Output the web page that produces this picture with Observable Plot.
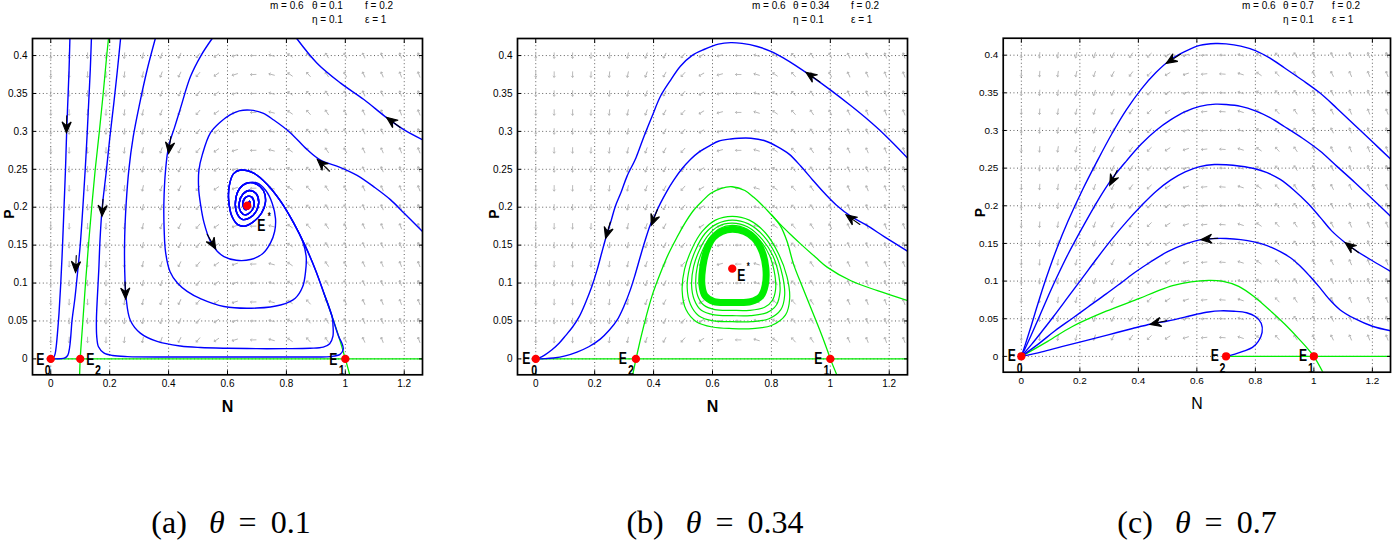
<!DOCTYPE html>
<html>
<head>
<meta charset="utf-8">
<script src="https://cdn.jsdelivr.net/npm/d3@7"></script>
<script src="https://cdn.jsdelivr.net/npm/@observablehq/plot@0.6"></script>
<style>
html,body{margin:0;padding:0;background:#fff;}
#root{position:relative;width:1394px;height:542px;overflow:hidden;background:#fff;}
.panel{position:absolute;top:0;}
.param{position:absolute;font-size:10px;line-height:12px;white-space:nowrap;color:#000;}
.caption{position:absolute;top:503px;font-family:'Liberation Serif',serif;font-size:32px;line-height:38px;white-space:nowrap;transform:translateX(-50%);color:#000;}
.caption i{font-style:italic;margin-left:22px;}
.caption .eq{margin:0 14px;}
</style>
</head>
<body>
<div id="root"></div>
<script>
// ---------------- data ----------------
const xTicks = [0, 0.2, 0.4, 0.6, 0.8, 1, 1.2];
const yTicks = [0, 0.05, 0.1, 0.15, 0.2, 0.25, 0.3, 0.35, 0.4];
const xDomain = [-0.062, 1.262];
const yDomain = [-0.021, 0.4225];

const mValue = 0.6, fValue = 0.2, etaValue = 0.1, epsValue = 1;
const thetaValues = [0.1, 0.34, 0.7];
const captionLetters = ["(a)", "(b)", "(c)"];

// quiver grid
const quiverN = [0, 0.0625, 0.125, 0.1875, 0.25, 0.3125, 0.375, 0.4375, 0.5, 0.5625, 0.625, 0.6875, 0.75, 0.8125, 0.875, 0.9375, 1, 1.0625, 1.125, 1.1875, 1.25];
const quiverP = [0.025, 0.05, 0.075, 0.1, 0.125, 0.15, 0.175, 0.2, 0.225, 0.25, 0.275, 0.3, 0.325, 0.35, 0.375, 0.4];
const quiverAngleA = [180, 180, 180, 182, 186, 192, 200, 208, 220, 235, 252, 268, 285, 305, 318, 326, 331, 334, 337, 339, 340];
const quiverAngleB = [180, 180, 181, 183, 186, 192, 200, 210, 222, 238, 255, 270, 287, 305, 318, 326, 331, 334, 337, 339, 340];
const quiverAngleC = [182, 184, 188, 194, 200, 208, 216, 226, 238, 252, 264, 274, 288, 305, 318, 326, 331, 334, 337, 339, 340];

// ---- panel (a) theta = 0.1 ----
const aEquilibria = [[0, 0], [0.1, 0], [1, 0], [0.667, 0.202]];
const aAxisGreen = [[0, 0], [1.262, 0]];
const aSeparatrix = [[0.098, -0.021], [0.1, 0], [0.109, 0.05], [0.118, 0.1], [0.128, 0.15], [0.139, 0.2], [0.151, 0.25], [0.165, 0.3], [0.178, 0.35], [0.19, 0.4], [0.196, 0.4225]];
const aManifoldLow = [[1.015, -0.021], [1, 0], [0.978, 0.029], [0.955, 0.056], [0.927, 0.087], [0.899, 0.117], [0.865, 0.148]];
const aManifoldMid = [[0.825, 0.179], [0.78, 0.208], [0.735, 0.23], [0.689, 0.245], [0.644, 0.249], [0.62, 0.244], [0.606, 0.228], [0.604, 0.209], [0.615, 0.188], [0.635, 0.177], [0.658, 0.175], [0.685, 0.18], [0.715, 0.192], [0.729, 0.207], [0.722, 0.222], [0.7, 0.23]];
const aManifoldCore = [[0.668, 0.232], [0.64, 0.224], [0.627, 0.207], [0.632, 0.192], [0.65, 0.184], [0.675, 0.186], [0.698, 0.195], [0.706, 0.207], [0.697, 0.218], [0.675, 0.222], [0.652, 0.217], [0.64, 0.206], [0.645, 0.194], [0.662, 0.19], [0.685, 0.197], [0.69, 0.207], [0.68, 0.214], [0.662, 0.213], [0.652, 0.205], [0.66, 0.197], [0.676, 0.2], [0.675, 0.208], [0.667, 0.202]];
const aBlue1 = [[0.065, 0.4225], [0.062, 0.38], [0.058, 0.34], [0.054, 0.3], [0.05, 0.25], [0.045, 0.2], [0.04, 0.15], [0.034, 0.1], [0.028, 0.06], [0.023, 0.035], [0.019, 0.018], [0.015, 0.007], [0.01, 0.002], [0.004, 0.0003], [0, 0]];
const aBlue2 = [[0.138, 0.4225], [0.134, 0.38], [0.129, 0.34], [0.124, 0.3], [0.117, 0.25], [0.109, 0.2], [0.1, 0.15], [0.09, 0.11], [0.082, 0.08], [0.072, 0.05], [0.068, 0.03], [0.064, 0.015], [0.058, 0.005], [0.048, 0.0012], [0.03, 0.0002], [0, 0]];
const aBlue3Head = [[0.237, 0.4225], [0.226, 0.38], [0.214, 0.337], [0.2, 0.29], [0.189, 0.249], [0.174, 0.197], [0.167, 0.155], [0.163, 0.117], [0.158, 0.08], [0.155, 0.051], [0.156, 0.03], [0.162, 0.016], [0.18, 0.008], [0.21, 0.0045], [0.26, 0.003], [0.4, 0.0025], [0.6, 0.0025], [0.8, 0.0025], [0.9, 0.0025], [0.95, 0.003], [0.982, 0.006], [0.993, 0.013], [0.988, 0.021]];
const aBlue4Head = [[0.355, 0.4225], [0.327, 0.381], [0.302, 0.337], [0.28, 0.293], [0.265, 0.249], [0.256, 0.205], [0.251, 0.161], [0.251, 0.117], [0.256, 0.08], [0.27, 0.051], [0.304, 0.034], [0.361, 0.023], [0.44, 0.017], [0.508, 0.015], [0.6, 0.014], [0.7, 0.0135], [0.8, 0.0135], [0.88, 0.014], [0.925, 0.0155], [0.947, 0.02], [0.958, 0.03], [0.958, 0.045]];
const aBlue5Head = [[0.548, 0.4225], [0.51, 0.4], [0.474, 0.372], [0.44, 0.33], [0.42, 0.305], [0.4, 0.28], [0.39, 0.25], [0.384, 0.205], [0.385, 0.17], [0.39, 0.14], [0.405, 0.115], [0.43, 0.1], [0.463, 0.089], [0.51, 0.079], [0.588, 0.069], [0.7, 0.067], [0.78, 0.071], [0.83, 0.08], [0.855, 0.095], [0.865, 0.115], [0.867, 0.135], [0.855, 0.155]];
const aBlue6Head = [[1.262, 0.168], [1.2, 0.192], [1.153, 0.21], [1.1, 0.226], [1.04, 0.242], [0.98, 0.253], [0.916, 0.262], [0.87, 0.276], [0.814, 0.298], [0.757, 0.315], [0.72, 0.324], [0.678, 0.328], [0.64, 0.327], [0.61, 0.322], [0.575, 0.312], [0.542, 0.298], [0.515, 0.27], [0.503, 0.249], [0.502, 0.225], [0.508, 0.205], [0.52, 0.18], [0.542, 0.155], [0.565, 0.142], [0.588, 0.135], [0.63, 0.13], [0.678, 0.131], [0.72, 0.139], [0.746, 0.153], [0.76, 0.168], [0.763, 0.185], [0.752, 0.205], [0.73, 0.222], [0.7, 0.232]];
const aBlue7 = [[1.262, 0.289], [1.2, 0.302], [1.142, 0.3175], [1.063, 0.342], [0.983, 0.364], [0.904, 0.39], [0.835, 0.4225]];
const aArrows = [[0.0545, 0.325, 0.053, 0.298], [0.087, 0.14, 0.084, 0.114], [0.178, 0.215, 0.174, 0.188], [0.252, 0.105, 0.254, 0.079], [0.41, 0.3, 0.4, 0.271], [0.94, 0.25, 0.905, 0.263], [0.53, 0.165, 0.56, 0.145], [1.18, 0.307, 1.14, 0.3185]];

// ---- panel (b) theta = 0.34 ----
const bEquilibria = [[0, 0], [0.34, 0], [1, 0], [0.667, 0.119]];
const bAxisGreen = [[0, 0], [1.262, 0]];
const bArch = [[0.329, -0.021], [0.3405, 0], [0.358, 0.03], [0.377, 0.059], [0.398, 0.087], [0.422, 0.112], [0.45, 0.138], [0.479, 0.16], [0.508, 0.18], [0.536, 0.196], [0.565, 0.208], [0.593, 0.218], [0.63, 0.225], [0.667, 0.227], [0.71, 0.222], [0.74, 0.213], [0.768, 0.203], [0.8, 0.19], [0.831, 0.177], [0.865, 0.164], [0.898, 0.152], [0.95, 0.134], [0.989, 0.121], [1.07, 0.103], [1.16, 0.09], [1.262, 0.077]];
const bStableE1 = [[0.8, 0.19], [0.831, 0.175], [0.853, 0.155], [0.875, 0.125], [0.905, 0.095], [0.933, 0.068], [0.958, 0.044], [0.978, 0.024], [0.992, 0.009], [1, 0], [1.023, -0.022]];
const bBand = [[0.667, 0.171], [0.708, 0.168], [0.742, 0.159], [0.768, 0.142], [0.781, 0.12], [0.779, 0.097], [0.765, 0.083], [0.73, 0.0755], [0.667, 0.0745], [0.605, 0.0755], [0.575, 0.083], [0.564, 0.098], [0.567, 0.121], [0.58, 0.143], [0.603, 0.16], [0.632, 0.168]];
const bLoop1 = [[0.667, 0.188], [0.725, 0.183], [0.78, 0.166], [0.825, 0.138], [0.853, 0.108], [0.862, 0.08], [0.848, 0.058], [0.8, 0.044], [0.735, 0.04], [0.667, 0.04], [0.6, 0.042], [0.545, 0.049], [0.51, 0.065], [0.497, 0.09], [0.505, 0.118], [0.53, 0.145], [0.565, 0.168], [0.61, 0.183]];
const bLoop2 = [[0.667, 0.183], [0.722, 0.178], [0.774, 0.162], [0.815, 0.137], [0.838, 0.109], [0.845, 0.084], [0.832, 0.065], [0.792, 0.053], [0.732, 0.049], [0.667, 0.049], [0.603, 0.05], [0.553, 0.057], [0.525, 0.072], [0.514, 0.094], [0.522, 0.12], [0.543, 0.144], [0.574, 0.165], [0.615, 0.178]];
const bLoop3 = [[0.667, 0.179], [0.72, 0.174], [0.768, 0.158], [0.805, 0.136], [0.825, 0.11], [0.829, 0.088], [0.817, 0.071], [0.785, 0.061], [0.728, 0.057], [0.667, 0.057], [0.606, 0.058], [0.562, 0.064], [0.538, 0.078], [0.529, 0.097], [0.536, 0.122], [0.555, 0.143], [0.583, 0.162], [0.62, 0.175]];
const bLoop4 = [[0.667, 0.176], [0.718, 0.171], [0.762, 0.156], [0.795, 0.135], [0.812, 0.11], [0.814, 0.091], [0.803, 0.077], [0.777, 0.068], [0.725, 0.064], [0.667, 0.064], [0.608, 0.065], [0.57, 0.071], [0.55, 0.083], [0.543, 0.1], [0.549, 0.123], [0.566, 0.143], [0.591, 0.16], [0.625, 0.172]];
const bBlue1 = [[1.262, 0.265], [1.184, 0.2957], [1.12, 0.3179], [1.07, 0.3338], [1.0, 0.3548], [0.934, 0.3733], [0.88, 0.3875], [0.843, 0.3964], [0.8, 0.4053], [0.752, 0.412], [0.7, 0.416], [0.662, 0.417], [0.62, 0.415], [0.571, 0.408], [0.53, 0.4], [0.491, 0.386], [0.455, 0.366], [0.423, 0.346], [0.395, 0.32], [0.367, 0.293], [0.34, 0.265], [0.31, 0.241], [0.29, 0.22], [0.27, 0.201], [0.255, 0.181], [0.239, 0.161], [0.224, 0.14], [0.208, 0.117], [0.19, 0.095], [0.17, 0.075], [0.148, 0.056], [0.125, 0.042], [0.102, 0.031], [0.08, 0.021], [0.055, 0.012], [0.03, 0.005], [0.012, 0.0012], [0, 0]];
const bBlue2 = [[1.262, 0.142], [1.184, 0.161], [1.12, 0.177], [1.07, 0.188], [1.02, 0.203], [0.979, 0.219], [0.94, 0.236], [0.9, 0.254], [0.86, 0.27], [0.82, 0.28], [0.775, 0.288], [0.73, 0.291], [0.69, 0.291], [0.662, 0.29], [0.62, 0.287], [0.594, 0.282], [0.555, 0.273], [0.525, 0.263], [0.495, 0.25], [0.469, 0.236], [0.445, 0.221], [0.423, 0.205], [0.405, 0.19], [0.389, 0.177], [0.372, 0.157], [0.355, 0.135], [0.338, 0.112], [0.321, 0.091], [0.3, 0.07], [0.276, 0.051], [0.25, 0.038], [0.219, 0.026], [0.18, 0.016], [0.14, 0.009], [0.1, 0.004], [0.06, 0.0012], [0.03, 0.0003], [0, 0]];
const bArrows = [[0.96, 0.3665, 0.917, 0.378], [0.258, 0.187, 0.237, 0.159], [0.414, 0.198, 0.392, 0.176], [1.09, 0.18, 1.053, 0.19]];

// ---- panel (c) theta = 0.7 ----
const cEquilibria = [[0, 0], [0.7, 0], [1, 0]];
const cAxisGreen = [[0.7, 0], [1.262, 0]];
const cGreen = [[0, 0], [0.09, 0.02], [0.176, 0.04], [0.29, 0.06], [0.404, 0.077], [0.46, 0.086], [0.517, 0.094], [0.58, 0.099], [0.64, 0.101], [0.686, 0.1], [0.743, 0.093], [0.8, 0.078], [0.856, 0.059], [0.9, 0.043], [0.947, 0.024], [0.975, 0.012], [1, 0], [1.032, -0.022]];
const cBlue1 = [[1.262, 0.262], [1.2, 0.285], [1.14, 0.307], [1.08, 0.329], [1.02, 0.35], [0.96, 0.367], [0.9, 0.383], [0.85, 0.396], [0.8, 0.406], [0.75, 0.412], [0.7, 0.415], [0.664, 0.4155], [0.61, 0.413], [0.56, 0.405], [0.51, 0.394], [0.46, 0.377], [0.41, 0.355], [0.36, 0.328], [0.31, 0.296], [0.26, 0.26], [0.21, 0.222], [0.16, 0.18], [0.12, 0.142], [0.085, 0.104], [0.055, 0.068], [0.03, 0.036], [0.012, 0.014], [0, 0]];
const cBlue2 = [[1.262, 0.186], [1.2, 0.209], [1.14, 0.231], [1.08, 0.252], [1.02, 0.273], [0.96, 0.29], [0.9, 0.305], [0.85, 0.317], [0.8, 0.326], [0.75, 0.332], [0.7, 0.3345], [0.664, 0.335], [0.61, 0.332], [0.56, 0.325], [0.51, 0.314], [0.46, 0.3], [0.41, 0.282], [0.36, 0.26], [0.31, 0.236], [0.26, 0.206], [0.21, 0.172], [0.16, 0.136], [0.12, 0.104], [0.085, 0.074], [0.055, 0.047], [0.03, 0.025], [0.012, 0.01], [0, 0]];
const cBlue3 = [[1.262, 0.113], [1.2, 0.127], [1.15, 0.139], [1.107, 0.151], [1.06, 0.167], [1.021, 0.185], [0.98, 0.203], [0.931, 0.221], [0.885, 0.235], [0.84, 0.244], [0.795, 0.2495], [0.75, 0.2525], [0.7, 0.2545], [0.66, 0.2548], [0.61, 0.252], [0.56, 0.245], [0.51, 0.234], [0.46, 0.219], [0.41, 0.2], [0.36, 0.179], [0.31, 0.156], [0.26, 0.131], [0.21, 0.105], [0.16, 0.079], [0.11, 0.053], [0.07, 0.033], [0.035, 0.016], [0, 0]];
const cBlue4 = [[1.262, 0.034], [1.2, 0.04], [1.14, 0.05], [1.089, 0.062], [1.05, 0.077], [1.021, 0.091], [0.985, 0.107], [0.953, 0.12], [0.92, 0.131], [0.885, 0.139], [0.84, 0.147], [0.795, 0.152], [0.75, 0.155], [0.7, 0.1565], [0.66, 0.1565], [0.614, 0.155], [0.56, 0.149], [0.5, 0.139], [0.444, 0.126], [0.39, 0.112], [0.342, 0.098], [0.29, 0.083], [0.229, 0.066], [0.176, 0.051], [0.115, 0.034], [0.06, 0.017], [0, 0]];
const cBlue5 = [[0.7, 0], [0.73, 0.003], [0.76, 0.007], [0.79, 0.012], [0.81, 0.02], [0.823, 0.032], [0.82, 0.044], [0.8, 0.053], [0.77, 0.058], [0.727, 0.06], [0.68, 0.0605], [0.64, 0.059], [0.6, 0.056], [0.568, 0.053], [0.5, 0.047], [0.444, 0.043], [0.38, 0.037], [0.3, 0.029], [0.22, 0.021], [0.138, 0.013], [0.07, 0.006], [0, 0]];
const cArrows = [[0.535, 0.399, 0.495, 0.389], [0.325, 0.245, 0.302, 0.227], [1.145, 0.14, 1.107, 0.151], [0.66, 0.1565, 0.614, 0.155], [0.48, 0.046, 0.44, 0.0425]];

// ---------------- styles ----------------
const BLUE = "#0000ff", GREEN = "#00ee00", RED = "#ff0000", QGRAY = "#b4b4b4";
const LABEL_INK = "#010101";   // marks the equilibrium labels (drawn condensed)
const SANS = "'Liberation Sans', Arial, sans-serif";

const FRAME_W = 390, ML = 40, MR = 4, MT = 38, SVG_H = 420, FRAME_BOTTOM = 374.3;
const KX = FRAME_W / (xDomain[1] - xDomain[0]);
const KY = (FRAME_BOTTOM - MT) / (yDomain[1] - yDomain[0]);

// filled, notched arrowhead (tip at origin, pointing up) with a short tail
const arrowHead = {
  draw(context) {
    context.moveTo(0, 0);
    context.lineTo(-4.6, 11);
    context.lineTo(0, 7.2);
    context.lineTo(4.6, 11);
    context.closePath();
    context.moveTo(0, 7.2);
    context.lineTo(0, 17);
  }
};

const panels = [
  {
    theta: thetaValues[0], letter: captionLetters[0], frameLeft: 32, captionX: 231,
    paramDx: [238, 280, 333], nWeight: "bold",
    eq: aEquilibria,
    labels: [
      {i: 0, name: "E", sub: "0", ex: -6.5, ey: 1, ea: "end", sx: -3, sy: 12},
      {i: 1, name: "E", sub: "2", ex: 6, ey: 1, ea: "start", sx: 17.8, sy: 12},
      {i: 2, name: "E", sub: "1", ex: -8, ey: 1, ea: "end", sx: -3.6, sy: 12},
      {i: 3, name: "E", star: true, ex: 10, ey: 20, ea: "start", sx: 22, sy: 11}
    ],
    green: [aAxisGreen, aSeparatrix, aManifoldLow.slice(0, 5)],
    blue: [
      aBlue1, aBlue2,
      aBlue3Head.concat(aManifoldLow.slice(2), aManifoldMid, aManifoldCore),
      aBlue4Head.concat(aManifoldLow.slice(3), aManifoldMid, aManifoldCore),
      aBlue5Head.concat(aManifoldMid, aManifoldCore),
      aBlue6Head.concat(aManifoldCore),
      aBlue7
    ],
    loops: [], band: null,
    arrows: aArrows, qAngles: quiverAngleA
  },
  {
    theta: thetaValues[1], letter: captionLetters[1], frameLeft: 517, captionX: 715,
    paramDx: [235, 276, 334], nWeight: "bold",
    eq: bEquilibria,
    labels: [
      {i: 0, name: "E", sub: "0", ex: -5.5, ey: 0, ea: "end", sx: -1.5, sy: 12},
      {i: 1, name: "E", sub: "2", ex: -9, ey: 0, ea: "end", sx: -5, sy: 12},
      {i: 2, name: "E", sub: "1", ex: -8, ey: 0, ea: "end", sx: -3.8, sy: 12},
      {i: 3, name: "E", star: true, ex: 5, ey: 7, ea: "start", sx: 16, sy: -2}
    ],
    green: [bAxisGreen, bArch, bStableE1],
    blue: [bBlue1, bBlue2],
    loops: [bLoop1, bLoop2, bLoop3, bLoop4], band: bBand,
    arrows: bArrows, qAngles: quiverAngleB
  },
  {
    theta: thetaValues[2], letter: captionLetters[2], frameLeft: 1003, captionX: 1197,
    paramDx: [239, 280, 329], nWeight: "normal",
    eq: cEquilibria,
    labels: [
      {i: 0, name: "E", sub: "0", ex: -5.5, ey: 0, ea: "end", sx: -1.6, sy: 12},
      {i: 1, name: "E", sub: "2", ex: -7.5, ey: 0, ea: "end", sx: -3.6, sy: 12},
      {i: 2, name: "E", sub: "1", ex: -7, ey: 0, ea: "end", sx: -3, sy: 12}
    ],
    green: [cAxisGreen, cGreen],
    blue: [cBlue1, cBlue2, cBlue3, cBlue4, cBlue5],
    loops: [], band: null,
    arrows: cArrows, qAngles: quiverAngleC
  }
];

const tickFmt = d => d === 0 ? "0" : String(d);

function condenseLabels(svg, k) {
  svg.querySelectorAll(`g[fill="${LABEL_INK}"] text`).forEach(t => {
    const w = t.getComputedTextLength();
    if (w > 0) {
      t.setAttribute("textLength", (w * k).toFixed(2));
      t.setAttribute("lengthAdjust", "spacingAndGlyphs");
    }
  });
}

function buildPanel(p) {
  const quiver = [];
  quiverN.forEach((n, i) => quiverP.forEach(q => quiver.push({x: n, y: q, a: p.qAngles[i]})));
  const heads = p.arrows.map(([x1, y1, x2, y2]) => ({
    x: x2, y: y2,
    a: Math.atan2((x2 - x1) * KX, (y2 - y1) * KY) * 180 / Math.PI
  }));
  const marks = [
    Plot.gridX(xTicks, {stroke: "#000", strokeOpacity: 0.7, strokeWidth: 0.9, strokeDasharray: "1,2.6"}),
    Plot.gridY(yTicks, {stroke: "#000", strokeOpacity: 0.7, strokeWidth: 0.9, strokeDasharray: "1,2.6"}),
    Plot.vector(quiver, {x: "x", y: "y", rotate: "a", length: 5.5, stroke: QGRAY, strokeWidth: 0.9, anchor: "middle"})
  ];
  if (p.band) {
    marks.push(Plot.line(p.band, {stroke: GREEN, strokeWidth: 7, curve: "catmull-rom-closed"}));
  }
  for (const l of p.loops) marks.push(Plot.line(l, {stroke: GREEN, strokeWidth: 1.2, curve: "catmull-rom-closed"}));
  for (const g of p.green) marks.push(Plot.line(g, {stroke: GREEN, strokeWidth: 1.3, curve: "catmull-rom", clip: true}));
  for (const b of p.blue) marks.push(Plot.line(b, {stroke: BLUE, strokeWidth: 1.4, curve: "catmull-rom", clip: true}));
  marks.push(Plot.vector(heads, {x: "x", y: "y", rotate: "a", length: 11, shape: arrowHead, anchor: "start", fill: "#000", stroke: "#000", strokeWidth: 1.1, strokeLinejoin: "miter"}));
  marks.push(Plot.dot(p.eq, {x: "0", y: "1", r: 3.4, fill: RED, stroke: RED}));
  for (const lb of p.labels) {
    const pt = [p.eq[lb.i]];
    marks.push(Plot.text(pt, {x: "0", y: "1", text: () => lb.name, dx: lb.ex, dy: lb.ey, textAnchor: lb.ea, fontWeight: "bold", fontSize: 16, fill: LABEL_INK}));
    if (lb.sub) marks.push(Plot.text(pt, {x: "0", y: "1", text: () => lb.sub, dx: lb.sx, dy: lb.sy, textAnchor: "middle", fontWeight: "bold", fontSize: 14, fill: LABEL_INK}));
    if (lb.star) marks.push(Plot.text(pt, {x: "0", y: "1", text: () => "*", dx: lb.sx, dy: lb.sy, textAnchor: "middle", fontWeight: "bold", fontSize: 10, fill: LABEL_INK}));
  }
  marks.push(
    Plot.axisX(xTicks, {anchor: "bottom", tickSize: 0, tickPadding: 5, tickFormat: tickFmt, label: null, fontSize: 10}),
    Plot.axisY(yTicks, {anchor: "left", tickSize: 0, tickPadding: 5, tickFormat: tickFmt, label: null, fontSize: 10}),
    Plot.axisX(xTicks, {anchor: "bottom", tickSize: -4, tickFormat: () => "", label: null}),
    Plot.axisX(xTicks, {anchor: "top", tickSize: -4, tickFormat: () => "", label: null}),
    Plot.axisY(yTicks, {anchor: "left", tickSize: -4, tickFormat: () => "", label: null}),
    Plot.axisY(yTicks, {anchor: "right", tickSize: -4, tickFormat: () => "", label: null}),
    Plot.frame({stroke: "#000", strokeWidth: 1.7}),
    Plot.text(["P"], {frameAnchor: "left", text: d => d, dx: -23, dy: 12, rotate: -90, fontWeight: "bold", fontSize: 14, fill: "#000"}),
    Plot.text(["N"], {frameAnchor: "bottom", text: d => d, dy: 37, fontWeight: p.nWeight, fontSize: 16, fill: "#000"})
  );
  return Plot.plot({
    width: ML + FRAME_W + MR, height: SVG_H,
    marginLeft: ML, marginRight: MR, marginTop: MT, marginBottom: SVG_H - FRAME_BOTTOM,
    x: {domain: xDomain}, y: {domain: yDomain},
    style: {fontFamily: SANS, fontSize: "10px", color: "#000", background: "transparent", overflow: "visible"},
    marks
  });
}

const root = document.getElementById("root");
for (const p of panels) {
  const holder = document.createElement("div");
  holder.className = "panel";
  holder.style.left = (p.frameLeft - ML) + "px";
  const svg = buildPanel(p);
  holder.appendChild(svg);
  root.appendChild(holder);
  condenseLabels(svg, 0.76);

  const params = [
    [p.paramDx[0], 0, `m = ${mValue}`],
    [p.paramDx[1], 0, `θ = ${p.theta}`],
    [p.paramDx[2], 0, `f = ${fValue}`],
    [p.paramDx[1], 14, `η = ${etaValue}`],
    [p.paramDx[2], 14, `ε = ${epsValue}`]
  ];
  for (const [dx, top, txt] of params) {
    const s = document.createElement("div");
    s.className = "param";
    s.style.fontFamily = SANS;
    s.style.left = (p.frameLeft + dx) + "px";
    s.style.top = top + "px";
    s.textContent = txt;
    root.appendChild(s);
  }
  const cap = document.createElement("div");
  cap.className = "caption";
  cap.style.left = p.captionX + "px";
  cap.innerHTML = `<span>${p.letter}</span><i>θ</i><span class="eq">=</span><span>${p.theta}</span>`;
  root.appendChild(cap);
}
</script>
</body>
</html>
